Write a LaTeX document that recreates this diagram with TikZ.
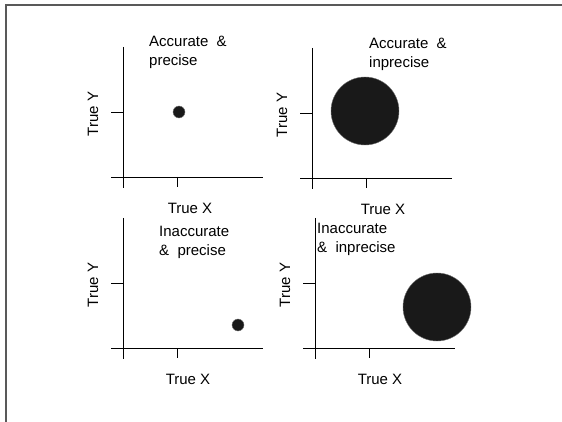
\documentclass[tikz,border=0pt]{standalone}
\usepackage{fontspec}
\setmainfont{Liberation Sans}
\usetikzlibrary{positioning}

\begin{document}
\begin{tikzpicture}[x=1pt, y=-1pt,
  every node/.style={font=\fontsize{15}{19}\selectfont, inner sep=0pt},
  axis/.style={line width=0.9pt, black},
  frame/.style={line width=1.6pt, black!65},
  title/.style={align=left, anchor=west},
  ylab/.style={rotate=90},
  dot/.style={circle, fill=black!90, draw=black!55, line width=0.4pt, inner sep=0pt},
]
  \useasboundingbox (0,0) rectangle (562,422);
  \draw[frame] (6,422) -- (6,5) -- (562,5);

  % four panels, origin at the axes' crossing
  \foreach \n/\ox/\oy/\lx in {a/123/177/67, b/312/178/71, c/123/348/65, d/315/348/65} {
    \draw[axis] (\ox,\oy-130) -- (\ox,\oy+11);
    \draw[axis] (\ox-12,\oy) -- (\ox+140,\oy);
    \draw[axis] (\ox-12,\oy-65) -- (\ox,\oy-65);
    \draw[axis] (\ox+54,\oy) -- (\ox+54,\oy+10);
    \node (tx\n) at (\ox+\lx,\oy+31) {True X};
    \node[ylab] (ty\n) at (\ox-30,\oy-63) {True Y};
  }

  % titles
  \node[title] (ta) at (149,52)  {Accurate \ \&\\precise};
  \node[title] (tb) at (369,54)  {Accurate \ \&\\inprecise};
  \node[title] (tc) at (159,242) {Inaccurate\\\& \ precise};
  \node[title] (td) at (317,239) {Inaccurate\\\& \ inprecise};

  % estimates
  \node[dot, minimum size=12pt] (da) at (179,112) {};
  \node[dot, minimum size=68pt] (db) at (365,111) {};
  \node[dot, minimum size=12pt] (dc) at (238,325) {};
  \node[dot, minimum size=68pt] (dd) at (437,307) {};
\end{tikzpicture}
\end{document}
